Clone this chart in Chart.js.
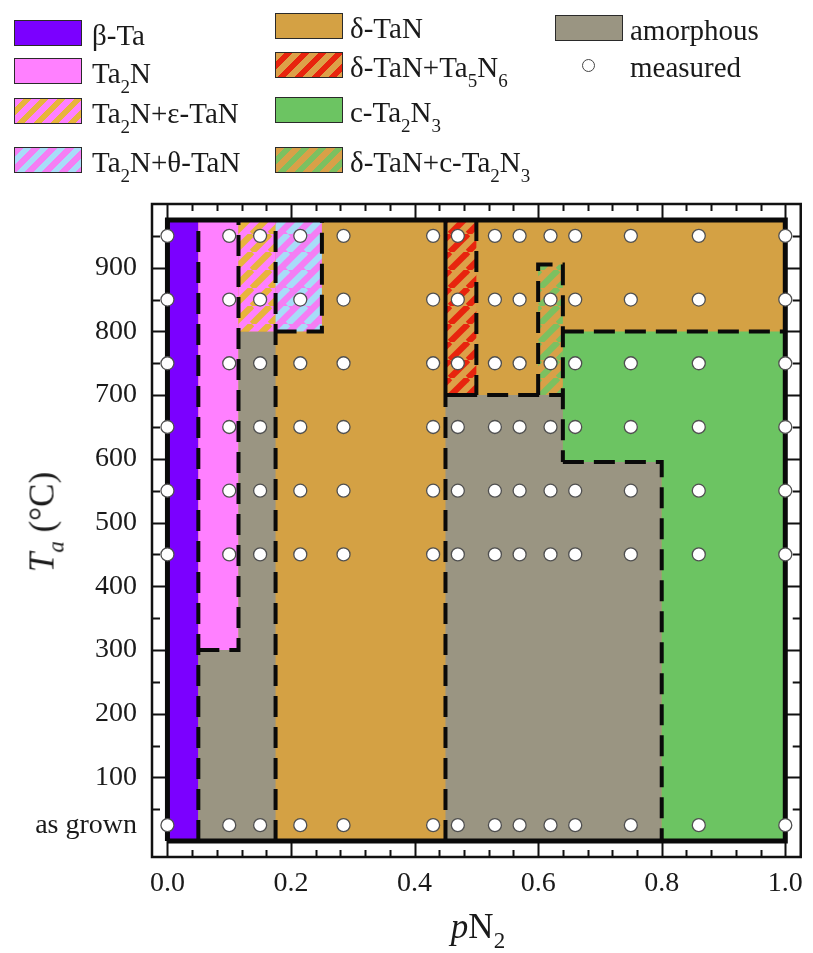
<!DOCTYPE html>
<html><head><meta charset="utf-8">
<script src="https://cdn.jsdelivr.net/npm/chart.js@4.4.1/dist/chart.umd.min.js"></script>
<style>
html,body{margin:0;padding:0;background:#fff;}
#wrap{position:relative;width:813px;height:953px;font-family:'Liberation Serif','Times New Roman',serif;color:#1a1a1a;overflow:hidden;}
#c{position:absolute;left:0;top:0;}
.sw{position:absolute;width:68px;height:26px;border:1.5px solid #2a2a2a;box-sizing:border-box;}
.lt{position:absolute;font-size:29px;line-height:29px;white-space:nowrap;}
.lt sub{font-size:19px;vertical-align:-0.5em;line-height:0;}
.dot{position:absolute;width:13px;height:13px;border-radius:50%;border:1.5px solid #444;background:#fff;box-sizing:border-box;}
.ttl{position:absolute;font-size:35px;line-height:35px;white-space:nowrap;}
.ttl sub{font-size:23px;vertical-align:-0.45em;line-height:0;}
</style></head>
<body>
<div id="wrap">
<canvas id="c" width="813" height="953"></canvas>

<div class="sw" style="left:14px;top:20px;background:#7B00FF"></div>
<div class="lt" style="left:92px;top:21px">β-Ta</div>
<div class="sw" style="left:14px;top:58px;background:#FF80FF"></div>
<div class="lt" style="left:92px;top:59px">Ta<sub>2</sub>N</div>
<div class="sw" style="left:14px;top:98px;background:repeating-linear-gradient(135deg,#FF80FF 0 6px,#E8B43C 6px 12px)"></div>
<div class="lt" style="left:92px;top:99px">Ta<sub>2</sub>N+ε-TaN</div>
<div class="sw" style="left:14px;top:147px;background:repeating-linear-gradient(135deg,#F47EF4 0 6px,#A8DCF8 6px 12px)"></div>
<div class="lt" style="left:92px;top:148px">Ta<sub>2</sub>N+θ-TaN</div>

<div class="sw" style="left:275px;top:13px;background:#D4A144"></div>
<div class="lt" style="left:350px;top:14px">δ-TaN</div>
<div class="sw" style="left:275px;top:52px;background:repeating-linear-gradient(135deg,#DDA048 0 6px,#E8240E 6px 12px)"></div>
<div class="lt" style="left:350px;top:53px">δ-TaN+Ta<sub>5</sub>N<sub>6</sub></div>
<div class="sw" style="left:275px;top:97px;background:#6CC462"></div>
<div class="lt" style="left:350px;top:98px">c-Ta<sub>2</sub>N<sub>3</sub></div>
<div class="sw" style="left:275px;top:147px;background:repeating-linear-gradient(135deg,#D8A048 0 6px,#7CC060 6px 12px)"></div>
<div class="lt" style="left:350px;top:148px">δ-TaN+c-Ta<sub>2</sub>N<sub>3</sub></div>

<div class="sw" style="left:555px;top:15px;background:#9A9582"></div>
<div class="lt" style="left:630px;top:16px">amorphous</div>
<div class="dot" style="left:582px;top:59px"></div>
<div class="lt" style="left:630px;top:53px">measured</div>

<div class="ttl" id="ytitle" style="left:42px;top:522px;transform:translate(-50%,-50%) rotate(-90deg)"><i>T</i><sub><i>a</i></sub> (°C)</div>
<div class="ttl" id="xtitle" style="left:478px;top:926px;transform:translate(-50%,-50%)"><i>p</i>N<sub>2</sub></div>
</div>

<script>
// ---------- data ----------
const xTickValues = [0, 0.2, 0.4, 0.6, 0.8, 1.0];
const yTickValues = [25, 100, 200, 300, 400, 500, 600, 700, 800, 900];
const yTickLabels = ['as grown', '100', '200', '300', '400', '500', '600', '700', '800', '900'];

const pN2Measured = [0, 0.10, 0.15, 0.215, 0.285, 0.43, 0.47, 0.53, 0.57, 0.62, 0.66, 0.75, 0.86, 1.0];
const TaRows = [950, 850, 750, 650, 550, 450, 25];

// phase regions: [pN2, Ta] vertices
const regDeltaTaN   = [[0,0],[1,0],[1,975],[0,975]];
const regBetaTa     = [[0,0],[0.05,0],[0.05,975],[0,975]];
const regTa2N       = [[0.05,300],[0.115,300],[0.115,975],[0.05,975]];
const regAmorphLeft = [[0.05,0],[0.175,0],[0.175,800],[0.115,800],[0.115,300],[0.05,300]];
const regTa2NEps    = [[0.115,800],[0.175,800],[0.175,975],[0.115,975]];
const regTa2NTheta  = [[0.175,800],[0.25,800],[0.25,975],[0.175,975]];
const regTa5N6Mix   = [[0.45,700],[0.50,700],[0.50,975],[0.45,975]];
const regCTa2N3Mix  = [[0.60,700],[0.64,700],[0.64,905],[0.60,905]];
const regAmorphRight= [[0.45,0],[0.80,0],[0.80,595],[0.64,595],[0.64,700],[0.45,700]];
const regCTa2N3     = [[0.80,0],[1,0],[1,800],[0.64,800],[0.64,595],[0.80,595]];

// phase boundaries
const dashedBounds = [
  [[0.05,0],[0.05,975]],
  [[0.05,300],[0.115,300],[0.115,975]],
  [[0.175,0],[0.175,975]],
  [[0.175,800],[0.25,800],[0.25,975]],
  [[0.45,0],[0.45,700]],
  [[0.50,975],[0.50,700],[0.64,700]],
  [[0.60,700],[0.60,905],[0.64,905],[0.64,595]],
  [[0.64,800],[1,800]],
  [[0.64,595],[0.80,595],[0.80,0]]
];
const solidBounds = [
  [[0.45,700],[0.45,975]],
  [[0.45,700],[0.50,700]],
  [[0,0],[1,0],[1,975],[0,975],[0,0]]
];

// ---------- helpers ----------
function hatch(base, stripe) {
  const s = 18, cv = document.createElement('canvas');
  cv.width = s; cv.height = s;
  const g = cv.getContext('2d');
  g.fillStyle = base; g.fillRect(0, 0, s, s);
  g.strokeStyle = stripe; g.lineWidth = 6.2;
  for (let k = -1; k <= 1; k++) {
    g.beginPath(); g.moveTo(k * s, s); g.lineTo(k * s + s, 0); g.stroke();
  }
  return g.createPattern(cv, 'repeat');
}
const pts = arr => arr.map(p => ({x: p[0], y: p[1]}));
let regionCount = 0;
function region(arr, color) {
  regionCount++;
  return {data: pts(arr), fill: 'shape', backgroundColor: color, borderWidth: 0,
          borderColor: 'rgba(0,0,0,0)', pointRadius: 0, order: 100 - regionCount, tension: 0};
}
function bound(arr, dashed, w) {
  return {data: pts(arr), fill: false, borderColor: '#0a0a0a', borderWidth: w,
          borderDash: dashed ? [21, 10] : [], borderCapStyle: 'butt', borderJoinStyle: 'miter',
          pointRadius: 0, order: 5, tension: 0};
}

const datasets = [
  region(regDeltaTaN, '#D4A144'),
  region(regBetaTa, '#7B00FF'),
  region(regTa2N, '#FF80FF'),
  region(regAmorphLeft, '#9A9582'),
  region(regTa2NEps, hatch('#FF80FF', '#E8B43C')),
  region(regTa2NTheta, hatch('#F47EF4', '#A8DCF8')),
  region(regTa5N6Mix, hatch('#DDA048', '#E8240E')),
  region(regCTa2N3Mix, hatch('#D8A048', '#7CC060')),
  region(regAmorphRight, '#9A9582'),
  region(regCTa2N3, '#6CC462')
];
dashedBounds.forEach(b => datasets.push(bound(b, true, 4)));
solidBounds.forEach((b, i) => datasets.push(bound(b, false, i === 2 ? 5 : 4)));
const measured = [];
TaRows.forEach(t => pN2Measured.forEach(x => measured.push({x: x, y: t})));
datasets.push({data: measured, showLine: false, pointRadius: 6.5, pointBackgroundColor: '#ffffff',
  pointBorderColor: '#505050', pointBorderWidth: 1.3, order: 0});

// frame with inward ticks (outer box) drawn through the scales
const framePlugin = {
  id: 'frame',
  beforeDatasetsDraw(chart) {
    const {ctx, chartArea: a, scales: {x, y}} = chart;
    const ix0 = x.getPixelForValue(0), ix1 = x.getPixelForValue(1);
    const iy0 = y.getPixelForValue(0), iy1 = y.getPixelForValue(975);
    ctx.save();
    ctx.strokeStyle = '#111'; ctx.lineWidth = 2;
    ctx.beginPath();
    for (let i = 0; i <= 25; i++) {
      const v = i * 0.04, px = Math.round(x.getPixelForValue(v)) + 0.5;
      const major = i % 5 === 0;
      const L = 7;
      ctx.moveTo(px, a.bottom); ctx.lineTo(px, major ? iy0 : a.bottom - L);
      ctx.moveTo(px, a.top); ctx.lineTo(px, major ? iy1 : a.top + L);
    }
    for (let v = 50; v <= 950; v += 50) {
      const py = Math.round(y.getPixelForValue(v)) + 0.5;
      const major = v % 100 === 0;
      ctx.moveTo(a.left, py); ctx.lineTo(major ? ix0 : a.left + 8, py);
      ctx.moveTo(a.right, py); ctx.lineTo(major ? ix1 : a.right - 8, py);
    }
    ctx.stroke();
    ctx.lineWidth = 2.5;
    ctx.strokeRect(a.left, a.top, a.right - a.left, a.bottom - a.top);
    ctx.restore();
  }
};

const tickFont = {family: "'Liberation Serif', 'Times New Roman', serif", size: 28};
new Chart(document.getElementById('c'), {
  type: 'line',
  data: {datasets: datasets},
  options: {
    responsive: false, animation: false, events: [],
    layout: {padding: {left: 0, top: 204, right: 9, bottom: 0}},
    plugins: {legend: {display: false}, tooltip: {enabled: false}},
    scales: {
      x: {type: 'linear', min: -0.025, max: 1.025,
        grid: {display: false, drawTicks: false}, border: {display: false},
        afterBuildTicks: s => { s.ticks = xTickValues.map(v => ({value: v})); },
        afterFit: s => { s.height = 96; },
        ticks: {font: tickFont, color: '#1a1a1a', padding: 10, maxRotation: 0, autoSkip: false,
          callback: v => Number(v).toFixed(1)}},
      y: {type: 'linear', min: -25, max: 1000,
        grid: {display: false, drawTicks: false}, border: {display: false},
        afterBuildTicks: s => { s.ticks = yTickValues.map(v => ({value: v})); },
        afterFit: s => { s.width = 152; },
        ticks: {font: tickFont, color: '#1a1a1a', padding: 15, autoSkip: false,
          callback: (v, i) => yTickLabels[i]}}
    }
  },
  plugins: [framePlugin]
});
</script>
</body></html>
